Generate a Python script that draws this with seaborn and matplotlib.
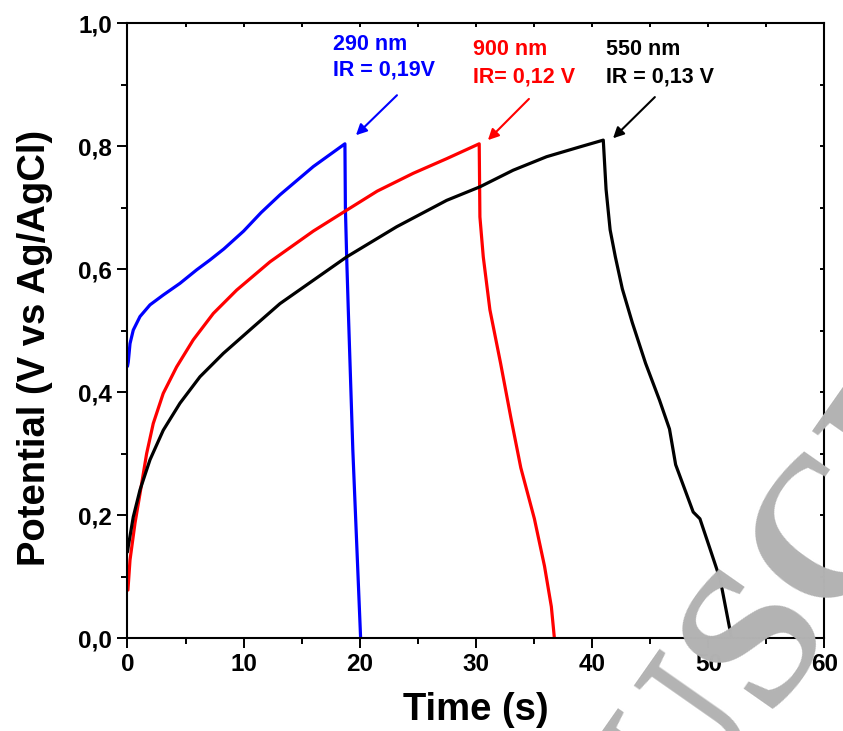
import numpy as np
import pandas as pd
import matplotlib
matplotlib.use("Agg")
import matplotlib.pyplot as plt
import seaborn as sns
from matplotlib.ticker import MultipleLocator, FixedLocator

# ---- data ----
t_290 = [0.0, 0.07, 0.22, 0.5, 1.08, 1.94, 3.08, 4.52, 5.96, 7.1, 8.3, 10.0, 11.5,
         13.13, 16.0, 18.72, 18.76, 18.87, 19.01, 19.4, 20.07]
v_290 = [0.442, 0.449, 0.479, 0.501, 0.523, 0.542, 0.558, 0.577, 0.599, 0.615, 0.633,
         0.662, 0.692, 0.721, 0.767, 0.804, 0.70, 0.62, 0.534, 0.306, 0.0]

t_900 = [0.04, 0.22, 0.65, 1.08, 1.65, 2.22, 3.08, 4.23, 5.66, 7.39, 9.4, 12.27,
         16.0, 18.87, 21.5, 24.6, 27.5, 30.28,
         30.34, 30.63, 31.2, 32.12, 33.0, 33.86, 35.03, 35.9, 36.49, 36.75]
v_900 = [0.078, 0.127, 0.187, 0.235, 0.300, 0.349, 0.398, 0.441, 0.485, 0.528, 0.566,
         0.612, 0.662, 0.696, 0.727, 0.756, 0.780, 0.804,
         0.685, 0.620, 0.534, 0.447, 0.359, 0.277, 0.194, 0.117, 0.051, 0.0]

t_550 = [0.0, 0.07, 0.5, 1.08, 1.94, 3.08, 4.52, 6.24, 8.25, 10.83, 13.13, 16.0,
         18.87, 23.17, 27.48, 30.34, 33.2, 36.08, 38.95, 40.96,
         41.2, 41.55, 42.0, 42.6, 43.46, 44.6, 45.8, 46.66, 47.19,
         48.7, 49.28, 50.15, 51.03, 52.0]
v_550 = [0.14, 0.149, 0.197, 0.241, 0.290, 0.338, 0.382, 0.425, 0.463, 0.506, 0.544,
         0.582, 0.620, 0.669, 0.712, 0.734, 0.761, 0.783, 0.799, 0.810,
         0.73, 0.664, 0.620, 0.568, 0.513, 0.447, 0.387, 0.340, 0.282,
         0.205, 0.194, 0.145, 0.095, 0.0]

series_names = ["290 nm", "900 nm", "550 nm"]
series_colors = ["#0000ff", "#ff0000", "#000000"]
ann_lines = [("290 nm", "IR = 0,19V"), ("900 nm", "IR= 0,12 V"), ("550 nm", "IR = 0,13 V")]
ann_text_pos = [(17.69, 0.965, 0.924), (29.74, 0.958, 0.913), (41.19, 0.958, 0.913)]
ann_arrow_tail = [(23.2, 0.883), (34.56, 0.877), (45.4, 0.880)]
ann_arrow_tip = [(19.67, 0.818), (31.03, 0.81), (41.8, 0.813)]

x_ticks = [0, 10, 20, 30, 40, 50, 60]
y_ticks = [0.0, 0.2, 0.4, 0.6, 0.8, 1.0]
y_tick_labels = ["0,0", "0,2", "0,4", "0,6", "0,8", "1,0"]

df = pd.concat([
    pd.DataFrame({"Time": t_290, "Potential": v_290, "sample": "290 nm"}),
    pd.DataFrame({"Time": t_900, "Potential": v_900, "sample": "900 nm"}),
    pd.DataFrame({"Time": t_550, "Potential": v_550, "sample": "550 nm"}),
], ignore_index=True)

sns.set_theme(style="ticks")
plt.rcParams["font.family"] = ["Liberation Sans", "DejaVu Sans"]
plt.rcParams["font.weight"] = "bold"
plt.rcParams["text.color"] = "black"
plt.rcParams["axes.labelcolor"] = "black"
plt.rcParams["xtick.color"] = "black"
plt.rcParams["ytick.color"] = "black"

fig = plt.figure(figsize=(8.43, 7.31), dpi=100)
ax = fig.add_axes([0.1512, 0.1272, 0.8268, 0.8409])
ax.patch.set_alpha(0)

# watermark (behind the axes content)
fig.text(0.905, 0.12, "MANUSCRIPT", fontsize=145, family="Liberation Serif",
         color="#b3b3b3", rotation=55, rotation_mode="anchor",
         ha="center", va="center", zorder=0)

sns.lineplot(data=df, x="Time", y="Potential", hue="sample", units="sample",
             estimator=None, sort=False, palette=dict(zip(series_names, series_colors)),
             hue_order=series_names, linewidth=2.3, legend=False, ax=ax)

ax.set_xlim(0, 60)
ax.set_ylim(0, 1.0)
ax.xaxis.set_major_locator(FixedLocator(x_ticks))
ax.xaxis.set_minor_locator(MultipleLocator(5))
ax.yaxis.set_major_locator(FixedLocator(y_ticks))
ax.yaxis.set_minor_locator(MultipleLocator(0.1))
ax.set_yticklabels(y_tick_labels)
ax.set_xticklabels([str(v) for v in x_ticks])

for s in ax.spines.values():
    s.set_visible(True)
    s.set_linewidth(1.5)
    s.set_color("black")

ax.tick_params(axis="both", which="major", direction="out", length=7, width=1.4,
               labelsize=17.5, pad=4, colors="black")
ax.tick_params(axis="both", which="minor", direction="out", length=4, width=1.4)
ax.tick_params(top=True, right=True, which="both")
for lab in ax.get_xticklabels() + ax.get_yticklabels():
    lab.set_fontweight("bold")
    lab.set_color("black")

# top / right ticks inward
for tk in ax.xaxis.get_major_ticks() + ax.xaxis.get_minor_ticks():
    tk.tick2line.set_marker(3)
    tk.tick2line.set_markersize(3)
for tk in ax.yaxis.get_major_ticks() + ax.yaxis.get_minor_ticks():
    tk.tick2line.set_marker(0)
    tk.tick2line.set_markersize(3)

ax.set_xlabel("Time (s)", fontsize=27.5, fontweight="bold", labelpad=11, color="black")
ax.set_ylabel("Potential (V vs Ag/AgCl)", fontsize=27.5, fontweight="bold", color="black")
ax.yaxis.set_label_coords(-0.107, 0.472)

for (l1, l2), (tx, y1, y2), col, tail, tip in zip(ann_lines, ann_text_pos, series_colors,
                                                  ann_arrow_tail, ann_arrow_tip):
    ax.text(tx, y1, l1, color=col, fontsize=15.5, fontweight="bold", ha="left", va="center")
    ax.text(tx, y2, l2, color=col, fontsize=15.5, fontweight="bold", ha="left", va="center")
    ax.annotate("", xy=tip, xytext=tail,
                arrowprops=dict(arrowstyle="-|>", color=col, lw=1.5, mutation_scale=16,
                                shrinkA=0, shrinkB=0))

fig.savefig("out.png", dpi=100)
